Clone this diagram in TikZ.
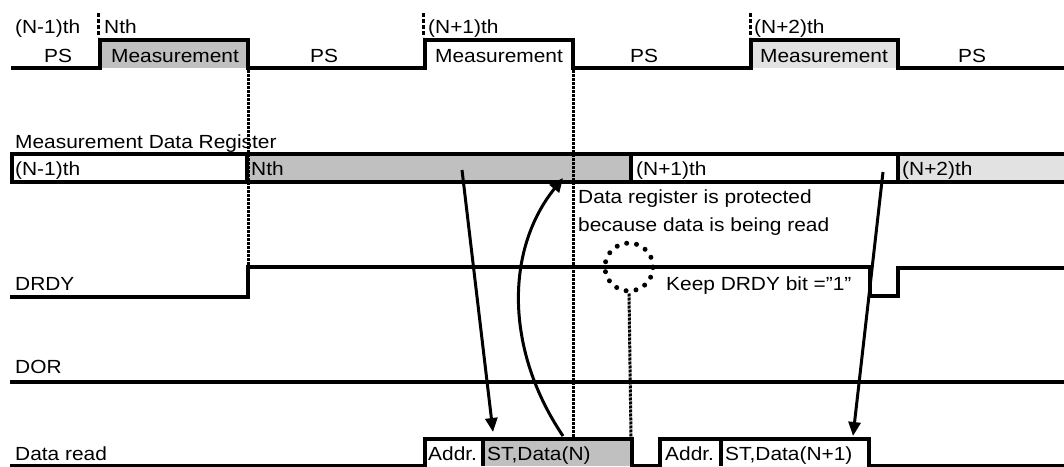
\documentclass[tikz,border=0pt]{standalone}
\usepackage{fontspec}
\setmainfont{Liberation Sans}[FakeStretch=1.1]
\usetikzlibrary{arrows.meta}
\definecolor{regGray}{RGB}{192,192,192}
\definecolor{dotGray}{RGB}{226,226,226}
\tikzset{
  sig/.style={line width=4pt, line join=miter},
  lbl/.style={font=\fontsize{19}{21}\selectfont, inner sep=0pt, anchor=base west},
  lblc/.style={font=\fontsize{19}{21}\selectfont, inner sep=0pt, anchor=base},
  guide/.style={line width=3pt, dash pattern=on 3pt off 1pt},
  marker/.style={line width=3pt, dash pattern=on 4pt off 2pt},
  readarrow/.style={line width=3pt, -{Triangle[length=14pt,width=12pt]}},
  keepring/.style={circle, draw, line width=5pt, line cap=round, dash pattern=on 0pt off 10pt, minimum size=48pt, inner sep=0pt},
}
\begin{document}
\begin{tikzpicture}[x=1pt,y=-1pt]
\useasboundingbox (0,0) rectangle (1064,466);

% ---- top waveform ----
\fill[regGray] (100,40) rectangle (248,68);
\fill[dotGray] (751,40) rectangle (898,68);
\draw[sig] (11,68) -- (100,68) -- (100,40) -- (248,40) -- (248,68) -- (425,68) -- (425,40) -- (573,40) -- (573,68) -- (751,68) -- (751,40) -- (898,40) -- (898,68) -- (1064,68);

\node[lbl] (tNm1) at (15,33) {(N-1)th};
\node[lbl] (tN) at (104,33) {Nth};
\node[lbl] (tNp1) at (428,33) {(N+1)th};
\node[lbl] (tNp2) at (754,33) {(N+2)th};
\draw[marker] (98,13) -- (98,37);
\draw[marker] (423,13) -- (423,37);
\draw[marker] (750,13) -- (750,37);

\node[lblc] (ps1) at (58,62) {PS};
\node[lblc] (m1) at (175,62) {Measurement};
\node[lblc] (ps2) at (324,62) {PS};
\node[lblc] (m2) at (499,62) {Measurement};
\node[lblc] (ps3) at (644,62) {PS};
\node[lblc] (m3) at (824,62) {Measurement};
\node[lblc] (ps4) at (972,62) {PS};

% ---- register ----
\node[lbl] (regTitle) at (15,148) {Measurement Data Register};
\fill[regGray] (247,154) rectangle (631,182);
\fill[dotGray] (898,154) rectangle (1064,182);
\draw[sig] (1064,154) -- (12,154) -- (12,182) -- (1064,182);
\draw[sig] (247,154) -- (247,182);
\draw[sig] (631,154) -- (631,182);
\draw[sig] (898,154) -- (898,182);
\node[lbl] (rNm1) at (15,175) {(N-1)th};
\node[lbl] (rN) at (251,175) {Nth};
\node[lbl] (rNp1) at (636,175) {(N+1)th};
\node[lbl] (rNp2) at (902,175) {(N+2)th};

\node[lbl] (prot1) at (578,203) {Data register is protected};
\node[lbl] (prot2) at (578,231) {because data is being read};

% ---- DRDY ----
\node[lbl] (drdy) at (15,290) {DRDY};
\draw[sig] (10,297) -- (248,297) -- (248,267) -- (870,267) -- (870,296) -- (898,296) -- (898,268) -- (1064,268);
\node[keepring] (ring) at (629,267) {};
\node[lbl] (keep) at (666,290) {Keep DRDY bit =\symbol{34}1\symbol{34}};

% ---- DOR ----
\node[lbl] (dor) at (15,373) {DOR};
\draw[sig] (10,382) -- (1064,382);

% ---- Data read ----
\node[lbl] (dread) at (15,460) {Data read};
\fill[regGray] (483,439) rectangle (632,466);
\draw[sig] (10,466) -- (425,466) -- (425,439) -- (632,439) -- (632,466) -- (660,466) -- (660,439) -- (869,439) -- (869,466) -- (1064,466);
\draw[sig] (483,439) -- (483,466);
\draw[sig] (721,439) -- (721,466);
\node[lbl] (addr1) at (428,460) {Addr.};
\node[lbl] (st1) at (487,460) {ST,Data(N)};
\node[lbl] (addr2) at (665,460) {Addr.};
\node[lbl] (st2) at (725,460) {ST,Data(N+1)};

% ---- guides ----
\coordinate (g1t) at (248,70);
\coordinate (g1b) at (248,266);
\coordinate (g2t) at (573,70);
\coordinate (g2b) at (573,437);
\coordinate (g3b) at (631,437);
\draw[guide] (g1t) -- (g1b);
\draw[guide] (g2t) -- (g2b);
\draw[guide] (ring.south) -- (g3b);

% ---- arrows ----
\coordinate (a1s) at (462,170);
\coordinate (a1e) at (493,432);
\coordinate (a2s) at (563,436);
\coordinate (a2e) at (563,178);
\coordinate (a3s) at (883,172);
\coordinate (a3e) at (853,436);
\draw[readarrow] (a1s) -- (a1e);
\draw[readarrow] (a2s) .. controls (505,350) and (505,250) .. (a2e);
\draw[readarrow] (a3s) -- (a3e);
\end{tikzpicture}
\end{document}
